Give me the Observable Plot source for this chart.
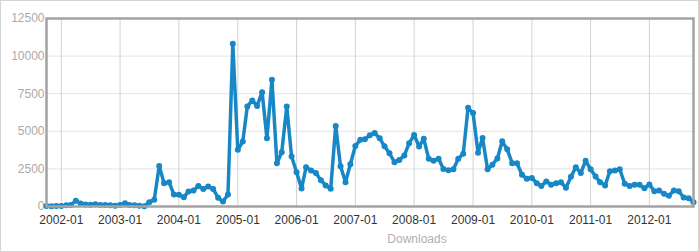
<!DOCTYPE html>
<html>
<head>
<meta charset="utf-8">
<script src="https://cdn.jsdelivr.net/npm/d3@7"></script>
<script src="https://cdn.jsdelivr.net/npm/@observablehq/plot@0.6"></script>
<style>
  html, body { margin: 0; padding: 0; background: #fff; }
  #wrap { position: relative; width: 699px; height: 252px; font-family: "Liberation Sans", Arial, sans-serif; }
  #wrap svg { display: block; outline: 1px solid #d4d4d4; outline-offset: -1px; }
  #label { position: absolute; left: 417px; top: 232px; transform: translateX(-50%); font-size: 12px; color: #b0b0b0; }
</style>
</head>
<body>
<div id="wrap"><div id="label">Downloads</div></div>
<script>
// First month of the series, and monthly download counts (2001-10 .. 2012-10)
const startMonth = "2001-10";
const downloads = [
  30, 20, 40, 30, 80, 100, 380, 200, 130, 120, 150, 100,
  100, 80, 50, 100, 220, 100, 80, 50, 20, 290, 450, 2700,
  1550, 1620, 800, 780, 620, 1000, 1060, 1370, 1170, 1330, 1170, 580,
  330, 800, 10820, 3770, 4320, 6650, 7050, 6690, 7600, 4540, 8420, 2880,
  3610, 6650, 3320, 2280, 1200, 2610, 2390, 2220, 1750, 1400, 1180, 5360,
  2670, 1620, 2810, 4030, 4430, 4470, 4740, 4880, 4540, 4000, 3540, 2950,
  3100, 3390, 4210, 4750, 3990, 4500, 3170, 3040, 3170, 2500, 2410, 2480,
  3170, 3500, 6560, 6210, 3580, 4550, 2480, 2780, 3190, 4340, 3800, 2880,
  2880, 2110, 1840, 1890, 1550, 1360, 1670, 1450, 1550, 1610, 1250, 1970,
  2610, 2220, 3050, 2470, 1990, 1620, 1400, 2350, 2390, 2480, 1510, 1370,
  1440, 1440, 1220, 1460, 1020, 1060, 840, 710, 1060, 1020, 600, 550,
  290
];
const yTicks = [0, 2500, 5000, 7500, 10000, 12500];
const xTickLabels = ["2002-01","2003-01","2004-01","2005-01","2006-01","2007-01","2008-01","2009-01","2010-01","2011-01","2012-01"];

const parseM = d3.utcParse("%Y-%m");
const start = parseM(startMonth);
const data = downloads.map((v, i) => ({date: d3.utcMonth.offset(start, i), value: v}));
const xTicks = xTickLabels.map(parseM);

const blue = "#1787c6";

const chart = Plot.plot({
  width: 699,
  height: 252,
  marginLeft: 46,
  marginRight: 6,
  marginTop: 18,
  marginBottom: 46,
  style: {fontFamily: "'Liberation Sans', Arial, sans-serif", fontSize: "12px", background: "#fff"},
  x: {type: "utc", domain: [data[0].date, data[data.length - 1].date]},
  y: {domain: [0, 12500]},
  marks: [
    Plot.gridY(yTicks, {stroke: "#e3e3e3", strokeOpacity: 1, strokeWidth: 1}),
    Plot.gridX(xTicks, {stroke: "#d2d2d2", strokeOpacity: 1, strokeWidth: 1}),
    Plot.axisY(yTicks, {tickSize: 0, tickPadding: 2, fill: "#aaaaaa", fontSize: 12, label: null, tickFormat: d => String(d)}),
    Plot.axisX(xTicks, {tickSize: 0, tickPadding: 9, fill: "#333", fontSize: 12, label: null, tickFormat: d3.utcFormat("%Y-%m")}),
    Plot.line(data, {x: "date", y: "value", stroke: blue, strokeWidth: 3.5, strokeLinejoin: "round"}),
    Plot.dot(data, {x: "date", y: "value", fill: blue, r: 3}),
    Plot.frame({stroke: "#a3a3a3", strokeWidth: 2.5})
  ]
});
document.getElementById("wrap").prepend(chart);
</script>
</body>
</html>
